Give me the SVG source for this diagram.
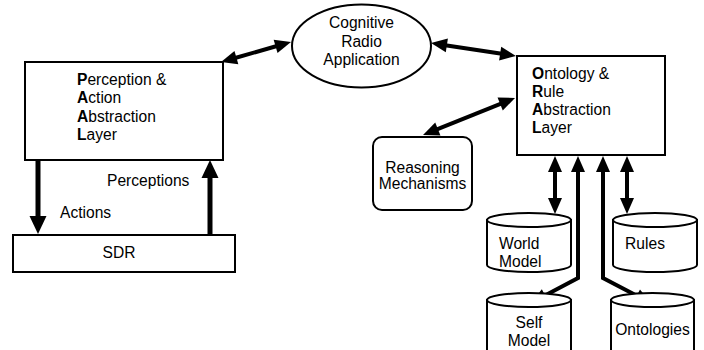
<svg xmlns="http://www.w3.org/2000/svg" width="704" height="350" viewBox="0 0 704 350">
<style>
  .shape { fill: #fff; stroke: #000; stroke-width: 2; }
  .t { font-family: "Liberation Sans", Arial, sans-serif; font-size: 15.6px; fill: #000; }
  .b { font-weight: bold; }
  .c { text-anchor: middle; }
  .conn { fill: none; stroke: #000; stroke-width: 4; stroke-linejoin: miter; }
  .big { stroke-width: 5; }
</style>
<defs>
  <marker id="ah" markerUnits="userSpaceOnUse" markerWidth="18" markerHeight="16" refX="5" refY="7" orient="auto-start-reverse" overflow="visible">
    <path d="M0,0 L16,7 L0,14 z" fill="#000"/>
  </marker>
  <marker id="ahBig" markerUnits="userSpaceOnUse" markerWidth="20" markerHeight="18" refX="4" refY="8.5" orient="auto-start-reverse" overflow="visible">
    <path d="M0,0 L18,8.5 L0,17 z" fill="#000"/>
  </marker>
</defs>

<g id="connectors">
  <line class="conn" x1="231.6" y1="59" x2="280.4" y2="45" marker-start="url(#ah)" marker-end="url(#ah)"/>
  <line class="conn" x1="441.9" y1="44.7" x2="505.1" y2="54.3" marker-start="url(#ah)" marker-end="url(#ah)"/>
  <line class="conn" x1="433.2" y1="130.9" x2="504.8" y2="102.1" marker-start="url(#ah)" marker-end="url(#ah)"/>
  <line class="conn" x1="555" y1="167" x2="555" y2="203" marker-start="url(#ah)" marker-end="url(#ah)"/>
  <line class="conn" x1="627" y1="167" x2="627" y2="203" marker-start="url(#ah)" marker-end="url(#ah)"/>
  <polyline class="conn" points="578,167 578,278 540.7,297.8" marker-start="url(#ah)" marker-end="url(#ah)"/>
  <polyline class="conn" points="603,167 603,278 641.2,297.9" marker-start="url(#ah)" marker-end="url(#ah)"/>
  <line class="conn big" x1="38" y1="161" x2="38" y2="220" marker-end="url(#ahBig)"/>
  <line class="conn big" x1="210" y1="234" x2="210" y2="174" marker-end="url(#ahBig)"/>
</g>

<g id="perception-layer">
  <rect class="shape" x="25" y="62" width="198" height="98"/>
  <text class="t" x="77" y="85"><tspan class="b">P</tspan>erception &amp;</text>
  <text class="t" x="77" y="103.3"><tspan class="b">A</tspan>ction</text>
  <text class="t" x="77" y="121.6"><tspan class="b">A</tspan>bstraction</text>
  <text class="t" x="77" y="140"><tspan class="b">L</tspan>ayer</text>
</g>

<g id="cognitive-radio-app">
  <ellipse class="shape" cx="361.5" cy="46" rx="69.5" ry="41.5"/>
  <text class="t c" x="361.5" y="28">Cognitive</text>
  <text class="t c" x="361.5" y="46.5">Radio</text>
  <text class="t c" x="361.5" y="65">Application</text>
</g>

<g id="ontology-layer">
  <rect class="shape" x="517" y="56" width="148" height="99"/>
  <text class="t" x="532" y="78.5"><tspan class="b">O</tspan>ntology &amp;</text>
  <text class="t" x="532" y="96.7"><tspan class="b">R</tspan>ule</text>
  <text class="t" x="532" y="114.9"><tspan class="b">A</tspan>bstraction</text>
  <text class="t" x="532" y="133"><tspan class="b">L</tspan>ayer</text>
</g>

<g id="reasoning">
  <rect class="shape" x="373" y="137" width="99" height="73" rx="9" ry="9"/>
  <text class="t c" x="422.5" y="172.5">Reasoning</text>
  <text class="t c" x="422.5" y="188.5">Mechanisms</text>
</g>

<g id="sdr">
  <rect class="shape" x="13" y="235" width="222" height="37"/>
  <text class="t c" x="119" y="258">SDR</text>
</g>

<g id="labels">
  <text class="t" x="60" y="218">Actions</text>
  <text class="t" x="107" y="186">Perceptions</text>
</g>

<g id="world-model">
  <path class="shape" d="M487,220 L487,265 A42,7 0 0 0 571,265 L571,220 Z"/>
  <ellipse class="shape" cx="529" cy="220" rx="42" ry="7"/>
  <text class="t" x="499" y="249">World</text>
  <text class="t" x="499" y="267">Model</text>
</g>

<g id="rules">
  <path class="shape" d="M613,220 L613,265 A42,7 0 0 0 697,265 L697,220 Z"/>
  <ellipse class="shape" cx="655" cy="220" rx="42" ry="7"/>
  <text class="t c" x="645" y="249">Rules</text>
</g>

<g id="self-model">
  <path class="shape" d="M487,300 L487,352 A42,7 0 0 0 571,352 L571,300 Z"/>
  <ellipse class="shape" cx="529" cy="300" rx="42" ry="7"/>
  <text class="t c" x="529" y="328">Self</text>
  <text class="t c" x="529" y="345.5">Model</text>
</g>

<g id="ontologies">
  <path class="shape" d="M611,300 L611,352 A41.5,7 0 0 0 694,352 L694,300 Z"/>
  <ellipse class="shape" cx="652.5" cy="300" rx="41.5" ry="7"/>
  <text class="t c" x="652.5" y="335">Ontologies</text>
</g>
</svg>
